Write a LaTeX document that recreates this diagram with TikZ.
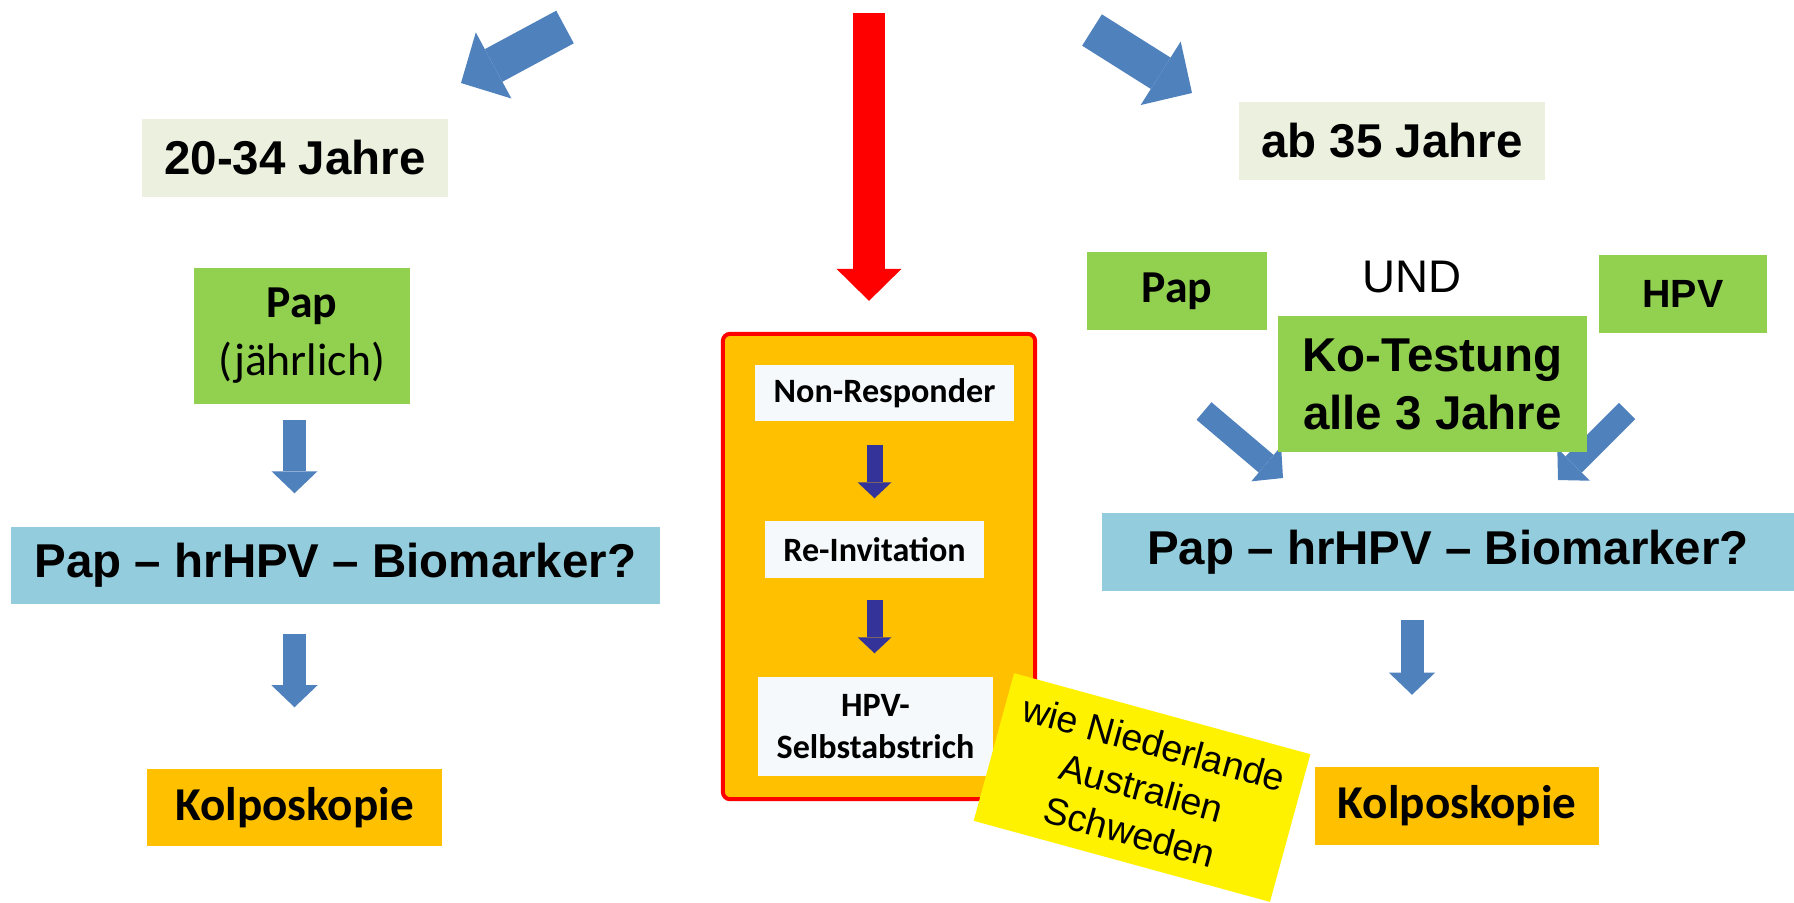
\documentclass[tikz,border=0pt]{standalone}
\usepackage{fontspec}
\usepackage{tikz}
\usetikzlibrary{arrows.meta}
\usetikzlibrary{positioning}
\newfontfamily\arialfont{Liberation Sans}
\newfontfamily\califont{Carlito}
\definecolor{paleolive}{HTML}{EBF1DE}
\definecolor{testgreen}{HTML}{92D050}
\definecolor{markerblue}{HTML}{93CDDD}
\definecolor{kolpoorange}{HTML}{FFC000}
\definecolor{flowblue}{HTML}{4F81BD}
\definecolor{stepnavy}{HTML}{333399}
\definecolor{paperwhite}{HTML}{F5F9FB}
\tikzset{
box/.style={ % Sets the properties for each coloured box
inner sep=0pt,
align=center},
agebox/.style={box, fill=paleolive,
minimum width=3.06cm, minimum height=0.78cm,
font=\arialfont\bfseries\fontsize{13.5pt}{16.5pt}\selectfont},
testbox/.style={box, fill=testgreen}, % Pap, HPV, Ko-Testung
markerbox/.style={box, fill=markerblue, minimum height=0.77cm,
font=\arialfont\bfseries\fontsize{13.5pt}{16.5pt}\selectfont},
kolpobox/.style={box, fill=kolpoorange, minimum height=0.77cm,
font=\califont\bfseries\fontsize{13.4pt}{16pt}\selectfont},
stepbox/.style={box, fill=paperwhite,
font=\califont\bfseries\fontsize{9.7pt}{12.2pt}\selectfont},
flowarrow/.style={ % Block arrows in blue
draw=flowblue, line width=0.23cm,
-{Triangle[width=0.46cm, length=0.22cm, line width=0pt]}},
bigarrow/.style={draw=flowblue, line width=0.37cm,
-{Triangle[width=0.75cm, length=0.37cm, line width=0pt]}},
steparrow/.style={draw=stepnavy, line width=0.16cm,
-{Triangle[width=0.34cm, length=0.16cm, line width=0pt]}},
redarrow/.style={draw=red, line width=0.32cm,
-{Triangle[width=0.65cm, length=0.32cm, line width=0pt]}}}

\begin{document}
\begin{tikzpicture}[x=0.01cm, y=-0.01cm]
\useasboundingbox[fill=white] (0,0) rectangle (1794,902);
% arrows that run under the Ko-Testung box
\coordinate (dl0) at (1204,411);
\coordinate (dl1) at (1283,478);
\coordinate (dr0) at (1627,411);
\coordinate (dr1) at (1558,480);
\draw[flowarrow] (dl0) -- (dl1);
\draw[flowarrow] (dr0) -- (dr1);

% left branch
\node[agebox] (age1) at (295,158) {20-34 Jahre};
\node[testbox, minimum width=2.16cm, minimum height=1.36cm,
font=\califont\fontsize{13pt}{16.5pt}\selectfont] (pap1) at (302,336) {\textbf{Pap}\\(jährlich)};
\node[markerbox, minimum width=6.49cm] (bio1) at (335.5,565.5) {Pap – hrHPV – Biomarker?};
\node[kolpobox, minimum width=2.95cm] (kolpo1) at (294.5,807.5) {Kolposkopie};

% right branch
\node[agebox] (age2) at (1392,141) {ab 35 Jahre};
\node[testbox, minimum width=1.80cm, minimum height=0.78cm,
font=\califont\bfseries\fontsize{13pt}{16pt}\selectfont] (pap2) at (1177,291) {Pap};
\node[font=\arialfont\fontsize{13pt}{16pt}\selectfont] (und) at (1412,277) {UND};
\node[testbox, minimum width=1.68cm, minimum height=0.78cm,
font=\arialfont\bfseries\fontsize{11.2pt}{14pt}\selectfont] (hpv) at (1683,294) {HPV};
\node[testbox, minimum width=3.09cm, minimum height=1.36cm,
font=\arialfont\bfseries\fontsize{13.5pt}{16.5pt}\selectfont] (kotest) at (1432.5,384) {Ko-Testung\\alle 3 Jahre};
\node[markerbox, minimum width=6.92cm] (bio2) at (1448,552) {Pap – hrHPV – Biomarker?};
\node[kolpobox, minimum width=2.84cm] (kolpo2) at (1457,806) {Kolposkopie};

% middle branch
\node[fill=kolpoorange, draw=red, line width=0.04cm, rounded corners=2pt,
minimum width=3.12cm, minimum height=4.65cm] (frame) at (879,566.5) {};
\node[stepbox, minimum width=2.59cm, minimum height=0.56cm] (nonresp) at (884.5,393) {Non-Responder};
\node[stepbox, minimum width=2.19cm, minimum height=0.57cm] (reinv) at (874.5,549.5) {Re-Invitation};
\node[stepbox, minimum width=2.35cm, minimum height=0.99cm] (selbst) at (875.5,726.5) {HPV-\\Selbstabstrich};
\node[box, fill=yellow, rotate=-15.3, minimum width=3.07cm, minimum height=1.53cm,
font=\arialfont\fontsize{10.7pt}{13.1pt}\selectfont] (note) at (1142,787.5) {wie Niederlande\\Australien\\Schweden};

% top arrows
\coordinate (tl0) at (565,27);
\coordinate (tl1) at (461,83);
\coordinate (tr0) at (1092,30);
\coordinate (tr1) at (1192,93);
\coordinate (red0) at (869,13);
\draw[bigarrow] (tl0) -- (tl1);
\draw[bigarrow] (tr0) -- (tr1);
\draw[redarrow, shorten >=0.31cm] (red0) -- (red0 |- frame.north);

\draw[flowarrow, shorten <=0.15cm, shorten >=0.33cm] (pap1.south -| kolpo1) -- (bio1.north -| kolpo1);
\draw[flowarrow, shorten <=0.29cm, shorten >=0.61cm] (bio1.south -| kolpo1) -- (kolpo1.north);
\draw[flowarrow, shorten <=0.29cm, shorten >=0.72cm] (bio2.south -| und) -- (kolpo2.north -| und);
\draw[steparrow, shorten <=0.23cm, shorten >=0.22cm] (nonresp.south -| reinv) -- (reinv.north);
\draw[steparrow, shorten <=0.21cm, shorten >=0.23cm] (reinv.south) -- (selbst.north -| reinv);
\end{tikzpicture}
\end{document}
